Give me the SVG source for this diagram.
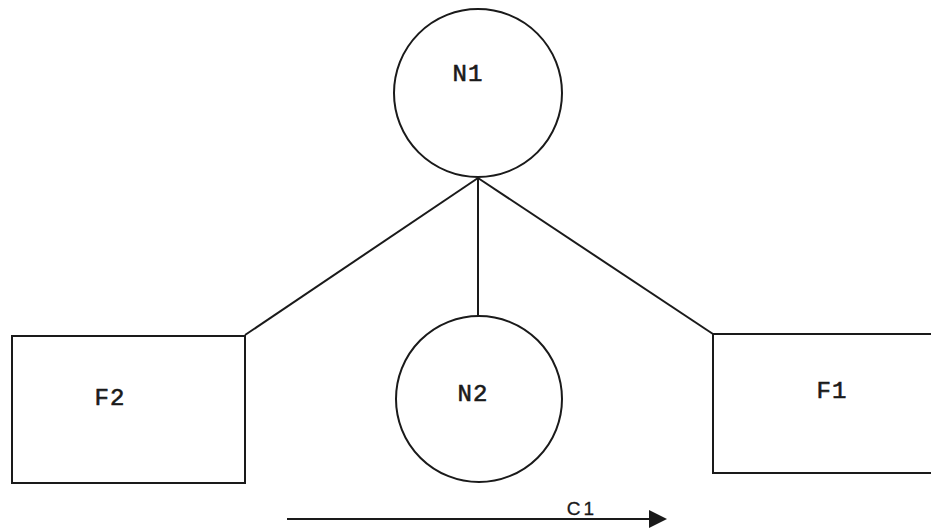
<svg xmlns="http://www.w3.org/2000/svg" width="931" height="530" viewBox="0 0 931 530">
<style>
.s{fill:none;stroke:#1a1a1a;stroke-width:2}
.t{font-family:"Liberation Mono","DejaVu Sans Mono",monospace;font-size:24px;fill:#1a1a1a;stroke:#1a1a1a;stroke-width:0.6;text-anchor:middle;letter-spacing:1px}
.c{font-family:"Liberation Sans",Arial,sans-serif;font-size:19px;fill:#1a1a1a;stroke:#1a1a1a;stroke-width:0.3;text-anchor:middle;letter-spacing:3px}
</style>
<rect width="931" height="530" fill="#fff"/>
<g id="connectors">
<line class="s" x1="478" y1="178" x2="245" y2="335"/>
<line class="s" x1="478" y1="178" x2="713" y2="334"/>
<line class="s" x1="478" y1="178" x2="478" y2="316"/>
<line class="s" x1="287" y1="519" x2="650" y2="519"/>
<path d="M649,510 L667,519 L649,528 z" fill="#1a1a1a"/>
<text class="c" x="582" y="515">C1</text>
</g>
<g id="N1">
<circle class="s" cx="478" cy="93" r="84"/>
<text class="t" x="468" y="81">N1</text>
</g>
<g id="N2">
<circle class="s" cx="479" cy="399" r="83"/>
<text class="t" x="473" y="401">N2</text>
</g>
<g id="F2">
<rect class="s" x="12" y="336" width="233" height="147"/>
<text class="t" x="110" y="405">F2</text>
</g>
<g id="F1">
<path class="s" d="M940,334 L713,334 L713,473 L940,473"/>
<text class="t" x="832" y="398">F1</text>
</g>
</svg>
